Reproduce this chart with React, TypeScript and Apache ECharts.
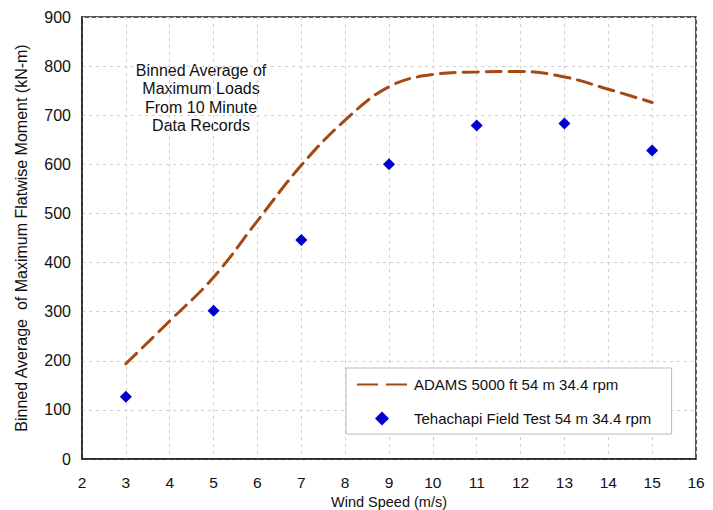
import React, { useEffect, useRef } from "react";
import * as echarts from "echarts";

const adamsX = [3, 4, 5, 6, 7, 8, 9, 10, 11, 12, 13, 14, 15];
const adamsY = [194, 281, 370, 485, 598, 690, 758, 783, 788, 789, 778, 753, 726];
const fieldX = [3, 5, 7, 9, 11, 13, 15];
const fieldY = [127, 302, 446, 600, 679, 683, 628];
const seriesNames = ["ADAMS 5000 ft 54 m 34.4 rpm", "Tehachapi Field Test 54 m 34.4 rpm"];
const noteLines = ["Binned Average of", "Maximum Loads", "From 10 Minute", "Data Records"];

export default function App() {
  const ref = useRef<HTMLDivElement>(null);
  useEffect(() => {
    if (!ref.current) return;
    const chart = echarts.init(ref.current, null, { renderer: "svg" });
    const font = "Liberation Sans, Arial, sans-serif";
    chart.setOption({
      animation: false,
      backgroundColor: "#fff",
      textStyle: { fontFamily: font },
      grid: {
        left: 82,
        right: 17,
        top: 17,
        bottom: 51,
        show: true,
        borderColor: "#222",
        borderWidth: 1.5,
        outerBoundsMode: "none",
        containLabel: false,
      },
      xAxis: {
        type: "value",
        min: 2,
        max: 16,
        interval: 1,
        name: "Wind Speed (m/s)",
        nameLocation: "middle",
        nameGap: 34,
        nameTextStyle: { fontSize: 14.5, color: "#111", fontFamily: font },
        axisLine: { show: true, lineStyle: { color: "#222", width: 1.5 } },
        axisTick: { show: false },
        axisLabel: { fontSize: 15.5, color: "#111", margin: 15, fontFamily: font },
        splitLine: { show: true, lineStyle: { color: "#d0d0d0", type: [3, 4], width: 1 } },
      },
      yAxis: {
        type: "value",
        min: 0,
        max: 900,
        interval: 100,
        name: "Binned Average  of Maximum Flatwise Moment (kN-m)",
        nameLocation: "middle",
        nameGap: 53,
        nameTextStyle: { fontSize: 16, color: "#111", fontFamily: font },
        axisLine: { show: true, lineStyle: { color: "#222", width: 1.5 } },
        axisTick: { show: false },
        axisLabel: { fontSize: 16, color: "#111", margin: 11, fontFamily: font },
        splitLine: { show: true, lineStyle: { color: "#d0d0d0", type: [3, 4], width: 1 } },
      },
      legend: {
        show: true,
        orient: "vertical",
        left: 346,
        top: 368,
        padding: [9, 20, 8, 11],
        itemGap: 19,
        itemWidth: 50,
        itemHeight: 14,
        borderColor: "#bbb",
        borderWidth: 1,
        backgroundColor: "#fff",
        textStyle: { fontSize: 15, color: "#111", fontFamily: font, padding: [0, 0, 0, 2] },
        data: [
          { name: seriesNames[0], icon: "path://M0,6 L21,6 L21,8 L0,8 Z M29,6 L50,6 L50,8 L29,8 Z" },
          { name: seriesNames[1], icon: "path://M6,0 L12,6 L6,12 L0,6 Z" },
        ],
      },
      graphic: [
        {
          type: "text",
          x: 201,
          y: 61,
          style: {
            text: noteLines.join("\n"),
            fontSize: 16,
            lineHeight: 18.5,
            fill: "#111",
            align: "center",
            verticalAlign: "top",
            fontFamily: font,
          },
        },
      ],
      series: [
        {
          name: seriesNames[0],
          type: "line",
          data: adamsX.map((x, i) => [x, adamsY[i]]),
          smooth: 0.4,
          showSymbol: false,
          symbol: "none",
          color: "#A34A12",
          lineStyle: { color: "#A34A12", width: 3, type: [15, 8], cap: "round" },
          z: 2,
        },
        {
          name: seriesNames[1],
          type: "scatter",
          data: fieldX.map((x, i) => [x, fieldY[i]]),
          symbol: "diamond",
          symbolSize: [12, 12],
          itemStyle: { color: "#0000CC", opacity: 1 },
          z: 3,
        },
      ],
    });
    return () => chart.dispose();
  }, []);
  return <div ref={ref} style={{ width: 713, height: 510, position: "absolute", left: 0, top: 0 }} />;
}
